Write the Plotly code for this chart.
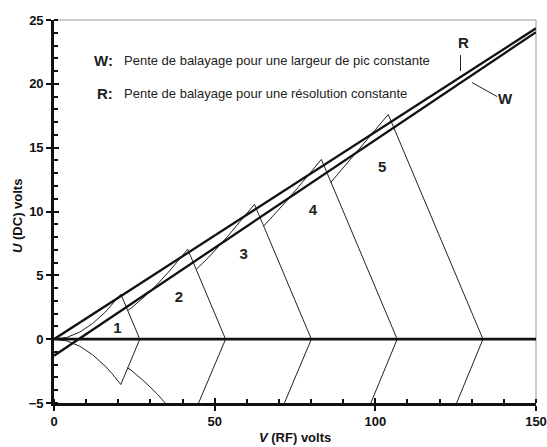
import plotly.graph_objects as go

# Sweep lines (V in volts RF, U in volts DC)
line_v = [0, 150]
r_line_u = [0, 24.35]
w_line_u = [-1.3, 24.05]

# Stability regions for the 5 masses (visible outline only)
peak1_v = [0, 4, 8, 12, 16, 18, 20.8, 26.7, 20.8, 18, 16, 12, 8, 4, 0]
peak1_u = [0, 0.14, 0.55, 1.22, 2.13, 2.68, 3.52, 0, -3.55, -2.68, -2.13, -1.22, -0.55, -0.14, 0]
peak2_v = [22.85, 24, 28, 32, 36, 40, 41.6, 53.4, 45.0]
peak2_u = [2.24, 2.43, 3.29, 4.26, 5.36, 6.56, 7.04, 0, -5]
peak2_low_v = [22.85, 24, 28, 32, 34.6]
peak2_low_u = [-2.24, -2.43, -3.29, -4.26, -5]
peak3_v = [44.2, 48, 54, 60, 62.4, 80.1, 71.7]
peak3_u = [5.45, 6.38, 8.04, 9.84, 10.56, 0, -5]
peak4_v = [65.25, 68, 72, 76, 80, 83.2, 106.8, 98.6]
peak4_u = [8.86, 9.6, 10.72, 11.9, 13.12, 14.08, 0, -5]
peak5_v = [86.2, 90, 95, 100, 104, 133.5, 125.3]
peak5_u = [12.3, 13.4, 14.9, 16.4, 17.6, 0, -5]

peak_labels = ["1", "2", "3", "4", "5"]
label_v = [19.7, 38.9, 59, 80.6, 102.1]
label_u = [0.8, 3.2, 6.6, 10, 13.4]

baseline_v = [0, 150]
baseline_u = [0, 0]

FONT = "Liberation Sans, Arial, sans-serif"
thin = dict(color="#222", width=1)
thick = dict(color="#111", width=2.3)

fig = go.Figure()

for vv, uu in [(peak1_v, peak1_u), (peak2_v, peak2_u), (peak2_low_v, peak2_low_u),
               (peak3_v, peak3_u), (peak4_v, peak4_u), (peak5_v, peak5_u)]:
    fig.add_trace(go.Scatter(x=vv, y=uu, mode="lines", line=thin,
                             showlegend=False, hoverinfo="skip"))

fig.add_trace(go.Scatter(x=line_v, y=r_line_u, mode="lines", line=thick,
                         name="R", showlegend=False))
fig.add_trace(go.Scatter(x=line_v, y=w_line_u, mode="lines", line=thick,
                         name="W", showlegend=False))
# zero line, drawn on the overlay axes so they render their inner tick marks
fig.add_trace(go.Scatter(x=baseline_v, y=baseline_u, mode="lines",
                         line=dict(color="#111", width=2.6),
                         xaxis="x2", yaxis="y2", showlegend=False, hoverinfo="skip"))

fig.add_trace(go.Scatter(x=label_v, y=label_u, mode="text", text=peak_labels,
                         textfont=dict(family=FONT, size=15, color="#222", weight="bold"),
                         showlegend=False, hoverinfo="skip"))

tickfont = dict(family=FONT, size=13, color="#111", weight="bold")

fig.update_layout(
    width=547, height=447,
    margin=dict(l=54, r=11, t=20, b=44),
    paper_bgcolor="white", plot_bgcolor="white",
    font=dict(family=FONT, color="#111"),
    xaxis=dict(range=[0, 150], dtick=50, ticks="outside", ticklen=5, tickwidth=2,
               tickcolor="#111", showline=True, linewidth=2.6, linecolor="#111",
               showgrid=False, zeroline=False, tickfont=tickfont, automargin=False,
               minor=dict(dtick=10, ticks="inside", ticklen=4, tickwidth=2, tickcolor="#111")),
    yaxis=dict(range=[-5, 25], dtick=5, ticks="outside", ticklen=5, tickwidth=2,
               tickcolor="#111", showline=True, linewidth=2.6, linecolor="#111",
               showgrid=False, zeroline=False, tickfont=tickfont, automargin=False,
               minor=dict(dtick=1, ticks="inside", ticklen=4, tickwidth=2, tickcolor="#111")),
    xaxis2=dict(range=[0, 150], overlaying="x", dtick=50, ticks="inside", ticklen=5,
                tickwidth=2, tickcolor="#111", showticklabels=False, showline=False,
                showgrid=False, zeroline=False, automargin=False),
    yaxis2=dict(range=[-5, 25], overlaying="y", dtick=5, ticks="inside", ticklen=5,
                tickwidth=2, tickcolor="#111", showticklabels=False, showline=False,
                showgrid=False, zeroline=False, automargin=False),
)

# grey top and right frame
fig.add_shape(type="line", xref="paper", yref="paper", x0=0, x1=1, y0=1, y1=1,
              line=dict(color="#999", width=1), layer="below")
fig.add_shape(type="line", xref="paper", yref="paper", x0=1, x1=1, y0=0, y1=1,
              line=dict(color="#999", width=1), layer="below")

# pointers to R and W lines
fig.add_shape(type="line", x0=126.5, x1=126.5, y0=22.25, y1=21.0, line=thin)
fig.add_shape(type="line", x0=130.1, x1=137.9, y0=20.1, y1=19.0, line=thin)

bold15 = dict(family=FONT, size=15, color="#222", weight="bold")
txt13 = dict(family=FONT, size=13, color="#222")
fig.add_annotation(x=127.4, y=23.27, text="R", showarrow=False, font=bold15)
fig.add_annotation(x=140.5, y=18.85, text="W", showarrow=False, font=bold15)

fig.add_annotation(x=19.0, y=21.86, text="W:", showarrow=False, xanchor="right", font=bold15)
fig.add_annotation(x=21.1, y=21.86, text="Pente de balayage pour une largeur de pic constante",
                   showarrow=False, xanchor="left", font=txt13)
fig.add_annotation(x=19.0, y=19.25, text="R:", showarrow=False, xanchor="right", font=bold15)
fig.add_annotation(x=21.1, y=19.25, text="Pente de balayage pour une résolution constante",
                   showarrow=False, xanchor="left", font=txt13)

# axis titles
fig.add_annotation(xref="paper", yref="paper", x=0.5, y=-0.089, yanchor="middle",
                   text="<b><i>V</i> (RF) volts</b>", showarrow=False,
                   font=dict(family=FONT, size=13, color="#111"))
fig.add_annotation(xref="paper", yref="paper", x=-0.077, y=0.488, textangle=-90,
                   xanchor="center", yanchor="middle",
                   text="<b><i>U</i> (DC) volts</b>", showarrow=False,
                   font=dict(family=FONT, size=13, color="#111"))

fig.write_html("out.html", config={"displayModeBar": False},
               post_script="document.body.style.margin='0';document.body.style.overflow='hidden';")
